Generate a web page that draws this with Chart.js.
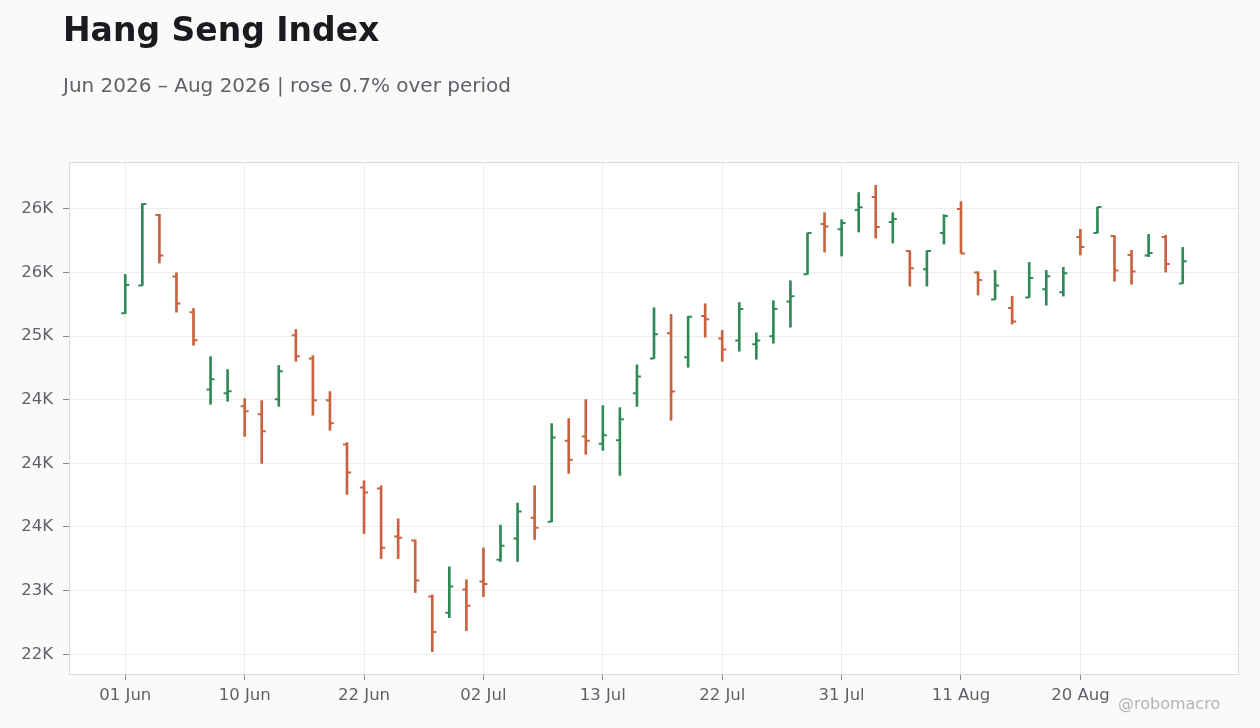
<!DOCTYPE html>
<html lang="en">
<head>
    <meta charset="UTF-8">
    <title>Hang Seng Index</title>
    <style>
        body {
            margin: 0;
            background: #fafafa;
            font-family: "DejaVu Sans", sans-serif;
        }
        #wrap {
            position: relative;
            width: 1260px;
            height: 728px;
        }
        #title {
            position: absolute;
            left: 63px;
            top: 10px;
            font-size: 33px;
            font-weight: bold;
            color: #1b1b1f;
            white-space: nowrap;
        }
        #subtitle {
            position: absolute;
            left: 63px;
            top: 73px;
            font-size: 20px;
            color: #5f6168;
            white-space: nowrap;
        }
        #credit {
            position: absolute;
            left: 1118px;
            top: 694px;
            font-size: 16px;
            color: #b4b4b4;
        }
        canvas {
            position: absolute;
            left: 0;
            top: 0;
        }
    </style>
    <script src="https://cdn.jsdelivr.net/npm/chart.js"></script>
</head>
<body>
<div id="wrap">
    <canvas id="ohlc" width="1260" height="728"></canvas>
    <div id="title">Hang Seng Index</div>
    <div id="subtitle">Jun 2026 – Aug 2026 | rose 0.7% over period</div>
    <div id="credit">@robomacro</div>
</div>

<script>
    // trading days (HK calendar, 19 Jun and 01 Jul closed)
    const dates = [
        "01 Jun", "02 Jun", "03 Jun", "04 Jun", "05 Jun", "08 Jun", "09 Jun", "10 Jun", "11 Jun", "12 Jun",
        "15 Jun", "16 Jun", "17 Jun", "18 Jun", "22 Jun", "23 Jun", "24 Jun", "25 Jun", "26 Jun", "29 Jun",
        "30 Jun", "02 Jul", "03 Jul", "06 Jul", "07 Jul", "08 Jul", "09 Jul", "10 Jul", "13 Jul", "14 Jul",
        "15 Jul", "16 Jul", "17 Jul", "20 Jul", "21 Jul", "22 Jul", "23 Jul", "24 Jul", "27 Jul", "28 Jul",
        "29 Jul", "30 Jul", "31 Jul", "03 Aug", "04 Aug", "05 Aug", "06 Aug", "07 Aug", "10 Aug", "11 Aug",
        "12 Aug", "13 Aug", "14 Aug", "17 Aug", "18 Aug", "19 Aug", "20 Aug", "21 Aug", "24 Aug", "25 Aug",
        "26 Aug", "27 Aug", "28 Aug"
    ];

    const opens = [
        24680, 24898, 25451, 24969, 24688, 24080, 24051, 23948, 23885, 24003,
        24507, 24324, 23996, 23649, 23311, 23303, 22925, 22894, 22453, 22327,
        22508, 22571, 22742, 22910, 23073, 23041, 23678, 23712, 23655, 23681,
        24051, 24324, 24523, 24334, 24657, 24481, 24465, 24436, 24499, 24772,
        24985, 25381, 25339, 25491, 25593, 25396, 25168, 25026, 25310, 25499,
        25000, 24788, 24720, 24804, 24869, 24845, 25278, 25310, 25286, 25137,
        25134, 25278, 24914
    ];
    const highs = [
        24985, 25541, 25457, 24998, 24717, 24339, 24237, 24009, 23993, 24269,
        24552, 24347, 24064, 23663, 23364, 23324, 23065, 22899, 22467, 22687,
        22585, 22836, 23015, 23188, 23324, 23812, 23852, 24001, 23954, 23938,
        24274, 24723, 24670, 24654, 24754, 24544, 24764, 24526, 24778, 24935,
        25310, 25470, 25415, 25628, 25685, 25470, 25171, 25171, 25454, 25557,
        25006, 25016, 24812, 25079, 25016, 25040, 25339, 25514, 25289, 25174,
        25299, 25292, 25197
    ];
    const lows = [
        24678, 24898, 25074, 24688, 24428, 23964, 23988, 23712, 23500, 23948,
        24302, 23878, 23760, 23256, 22949, 22752, 22752, 22485, 22020, 22288,
        22186, 22453, 22729, 22729, 22902, 23041, 23421, 23571, 23602, 23405,
        23948, 24324, 23838, 24255, 24491, 24302, 24381, 24318, 24444, 24570,
        24985, 25160, 25129, 25318, 25270, 25231, 24893, 24893, 25223, 25150,
        24822, 24788, 24594, 24804, 24743, 24814, 25137, 25310, 24932, 24908,
        25124, 25003, 24914
    ];
    const closes = [
        24901, 25538, 25134, 24757, 24468, 24161, 24066, 23909, 23752, 24224,
        24342, 23996, 23815, 23429, 23272, 22836, 22915, 22579, 22175, 22532,
        22382, 22553, 22852, 23122, 22994, 23704, 23529, 23678, 23720, 23846,
        24182, 24515, 24064, 24652, 24633, 24395, 24712, 24465, 24712, 24814,
        25310, 25362, 25388, 25512, 25357, 25420, 25034, 25168, 25443, 25150,
        24940, 24898, 24615, 24956, 24971, 24993, 25200, 25514, 25016, 25008,
        25152, 25066, 25089
    ];

    const xTickIdx = [0, 7, 14, 21, 28, 35, 42, 49, 56];
    const yTickValues = [22000, 22500, 23000, 23500, 24000, 24500, 25000, 25500];
    const yTickLabels = ["22K", "23K", "24K", "24K", "24K", "25K", "26K", "26K"];

    const UP = "#2f8a55";
    const DOWN = "#c9623e";
    const colours = closes.map((c, i) => c >= opens[i] ? UP : DOWN);

    // plot background + frame, drawn from the chart area
    const frame = {
        id: "frame",
        beforeDraw(chart) {
            const a = chart.chartArea, ctx = chart.ctx;
            ctx.save();
            ctx.fillStyle = "#ffffff";
            ctx.fillRect(a.left, a.top, a.right - a.left, a.bottom - a.top);
            ctx.restore();
        },
        afterDraw(chart) {
            const a = chart.chartArea, ctx = chart.ctx;
            ctx.save();
            ctx.strokeStyle = "#dcdcdc";
            ctx.lineWidth = 1;
            ctx.strokeRect(a.left + 0.5, a.top + 0.5, a.right - a.left - 1, a.bottom - a.top - 1);
            ctx.restore();
        }
    };

    // open tick to the left, close tick to the right
    const ohlcTicks = {
        id: "ohlcTicks",
        afterDatasetsDraw(chart) {
            const x = chart.scales.x, y = chart.scales.y, ctx = chart.ctx;
            ctx.save();
            ctx.lineWidth = 2;
            opens.forEach((o, i) => {
                const px = x.getPixelForValue(i);
                ctx.strokeStyle = colours[i];
                ctx.beginPath();
                ctx.moveTo(px - 4, y.getPixelForValue(o));
                ctx.lineTo(px, y.getPixelForValue(o));
                ctx.moveTo(px, y.getPixelForValue(closes[i]));
                ctx.lineTo(px + 4, y.getPixelForValue(closes[i]));
                ctx.stroke();
            });
            ctx.restore();
        }
    };

    Chart.defaults.font.family = "'DejaVu Sans', sans-serif";
    Chart.defaults.color = "#5f6168";

    new Chart(document.getElementById("ohlc"), {
        type: "bar",
        data: {
            datasets: [{
                data: dates.map((d, i) => ({ x: i, y: [lows[i], highs[i]] })),
                backgroundColor: colours,
                borderWidth: 0,
                borderSkipped: false,
                barThickness: 2
            }]
        },
        options: {
            responsive: false,
            animation: false,
            layout: { padding: { left: 0, right: 21, top: 162, bottom: 0 } },
            plugins: {
                legend: { display: false },
                tooltip: { enabled: false }
            },
            scales: {
                x: {
                    type: "linear",
                    offset: false,
                    min: -3.3,
                    max: 65.3,
                    afterBuildTicks: s => { s.ticks = xTickIdx.map(v => ({ value: v })); },
                    afterFit: s => { s.height = 53; },
                    grid: { offset: false, color: "#ededed", tickColor: "#8a8a8a", tickLength: 5 },
                    border: { display: false },
                    ticks: {
                        padding: 6,
                        font: { size: 16.5 },
                        maxRotation: 0,
                        autoSkip: false,
                        callback: v => dates[v]
                    }
                },
                y: {
                    min: 21837,
                    max: 25868,
                    afterBuildTicks: s => { s.ticks = yTickValues.map(v => ({ value: v })); },
                    afterFit: s => { s.width = 69; },
                    grid: { color: "#ededed", tickColor: "#8a8a8a", tickLength: 6 },
                    border: { display: false },
                    ticks: {
                        padding: 10,
                        font: { size: 16.5 },
                        callback: (v, i) => yTickLabels[i]
                    }
                }
            }
        },
        plugins: [frame, ohlcTicks]
    });
</script>
</body>
</html>
